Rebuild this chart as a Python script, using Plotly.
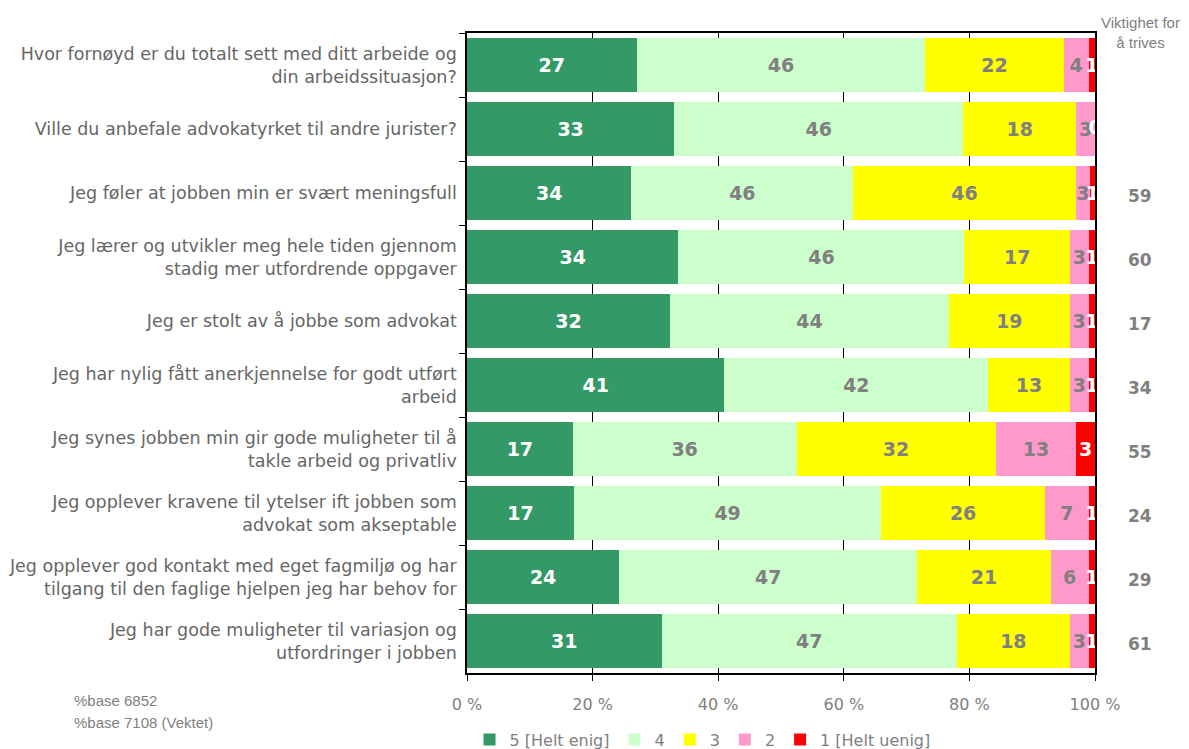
import plotly.graph_objects as go

# Survey statements (top to bottom)
statements = [
    "Hvor fornøyd er du totalt sett med ditt arbeide og<br>din arbeidssituasjon?",
    "Ville du anbefale advokatyrket til andre jurister?",
    "Jeg føler at jobben min er svært meningsfull",
    "Jeg lærer og utvikler meg hele tiden gjennom<br>stadig mer utfordrende oppgaver",
    "Jeg er stolt av å jobbe som advokat",
    "Jeg har nylig fått anerkjennelse for godt utført<br>arbeid",
    "Jeg synes jobben min gir gode muligheter til å<br>takle arbeid og privatliv",
    "Jeg opplever kravene til ytelser ift jobben som<br>advokat som akseptable",
    "Jeg opplever god kontakt med eget fagmiljø og har<br>tilgang til den faglige hjelpen jeg har behov for",
    "Jeg har gode muligheter til variasjon og<br>utfordringer i jobben",
]

# Answer distribution per statement (percent)
score_5 = [27, 33, 34, 34, 32, 41, 17, 17, 24, 31]
score_4 = [46, 46, 46, 46, 44, 42, 36, 49, 47, 47]
score_3 = [22, 18, 46, 17, 19, 13, 32, 26, 21, 18]
score_2 = [4, 3, 3, 3, 3, 3, 13, 7, 6, 3]
score_1 = [1, 0, 1, 1, 1, 1, 3, 1, 1, 1]

# "Viktighet for å trives" column
importance = [None, None, 59, 60, 17, 34, 55, 24, 29, 61]

series_names = ["5 [Helt enig]", "4", "3", "2", "1 [Helt uenig]"]
series_values = [score_5, score_4, score_3, score_2, score_1]
series_colors = ["#339966", "#CCFFCC", "#FFFF00", "#FF99CC", "#FF0000"]
label_colors = ["#FFFFFF", "#808080", "#808080", "#808080", "#FFFFFF"]

tick_vals = [0, 20, 40, 60, 80, 100]
tick_text = ["0 %", "20 %", "40 %", "60 %", "80 %", "100 %"]

GRAY = "#808080"
LABEL_FONT = "DejaVu Sans, Verdana, sans-serif"
ARIAL = "Liberation Sans, Arial, sans-serif"
VALUE_SIZE = 19

fig = go.Figure()
for name, vals, col, tcol in zip(series_names, series_values, series_colors, label_colors):
    fig.add_trace(go.Bar(
        y=statements,
        x=vals,
        name=name,
        orientation="h",
        marker=dict(color=col, line=dict(width=0)),
        text=[str(v) for v in vals],
        textposition="inside",
        insidetextanchor="middle",
        textangle=0,
        constraintext="none",
        textfont=dict(family=LABEL_FONT, size=VALUE_SIZE, color=tcol, weight="bold"),
        hoverinfo="skip",
    ))

# Zero-valued segments have no width, so their label is placed at the
# segment's (normalised) start position instead.
zx, zy, zt, zc = [], [], [], []
for r, stmt in enumerate(statements):
    total = sum(v[r] for v in series_values)
    cum = 0
    for vals, tcol in zip(series_values, label_colors):
        if vals[r] == 0:
            zx.append(100 * cum / total)
            zy.append(stmt)
            zt.append("0")
            zc.append(tcol)
        cum += vals[r]
fig.add_trace(go.Scatter(
    x=zx, y=zy, text=zt, mode="text",
    textposition="middle center",
    textfont=dict(family=LABEL_FONT, size=VALUE_SIZE, color=zc, weight="bold"),
    showlegend=False, hoverinfo="skip", cliponaxis=True,
))

fig.update_layout(
    barmode="stack",
    barnorm="percent",
    bargap=0.16,
    width=1189,
    height=749,
    margin=dict(l=467, r=94, t=33, b=76, autoexpand=False),
    paper_bgcolor="white",
    plot_bgcolor="white",
    font=dict(family=LABEL_FONT, color="#666666"),
    legend=dict(
        orientation="h",
        x=0.375, xanchor="center",
        y=-0.104, yanchor="middle",
        font=dict(family=LABEL_FONT, size=16, color=GRAY),
        traceorder="normal",
        itemwidth=30,
    ),
    showlegend=True,
)

fig.update_xaxes(
    range=[0, 100],
    tickvals=tick_vals,
    ticktext=tick_text,
    tickfont=dict(family=LABEL_FONT, size=16, color=GRAY),
    showgrid=True,
    gridcolor="#000000",
    gridwidth=1,
    zeroline=False,
    showline=True,
    linecolor="#000000",
    linewidth=1.5,
    mirror=True,
    ticks="outside",
    ticklen=6,
    tickcolor="#000000",
    ticklabelstandoff=10,
    automargin=False,
)

fig.update_yaxes(
    categoryorder="array",
    categoryarray=statements,
    autorange="reversed",
    tickfont=dict(family=LABEL_FONT, size=17.5, color="#666666"),
    showgrid=False,
    showline=True,
    linecolor="#000000",
    linewidth=1.5,
    mirror=True,
    ticks="outside",
    tickson="boundaries",
    ticklen=6,
    tickcolor="#000000",
    ticklabelstandoff=5,
    automargin=False,
)

# Importance column header
fig.add_annotation(
    x=1.072, xref="paper", xanchor="center",
    y=1.0, yref="paper", yanchor="bottom", yshift=-20,
    text="Viktighet for<br>å trives",
    showarrow=False,
    font=dict(family=ARIAL, size=15, color=GRAY),
)

# Importance values per statement
for stmt, val in zip(statements, importance):
    if val is None:
        continue
    fig.add_annotation(
        x=1.072, xref="paper", xanchor="center",
        y=stmt, yref="y", yanchor="middle", yshift=-3,
        text=str(val),
        showarrow=False,
        font=dict(family=LABEL_FONT, size=17, color=GRAY, weight="bold"),
    )

# Base notes
for i, note in enumerate(["%base 6852", "%base 7108 (Vektet)"]):
    fig.add_annotation(
        x=(72 - 467) / 628, xref="paper", xanchor="left",
        y=-(27 + 22 * i) / 640, yref="paper", yanchor="middle",
        text=note,
        showarrow=False,
        font=dict(family=ARIAL, size=15, color=GRAY),
    )

fig.write_html("out.html")
